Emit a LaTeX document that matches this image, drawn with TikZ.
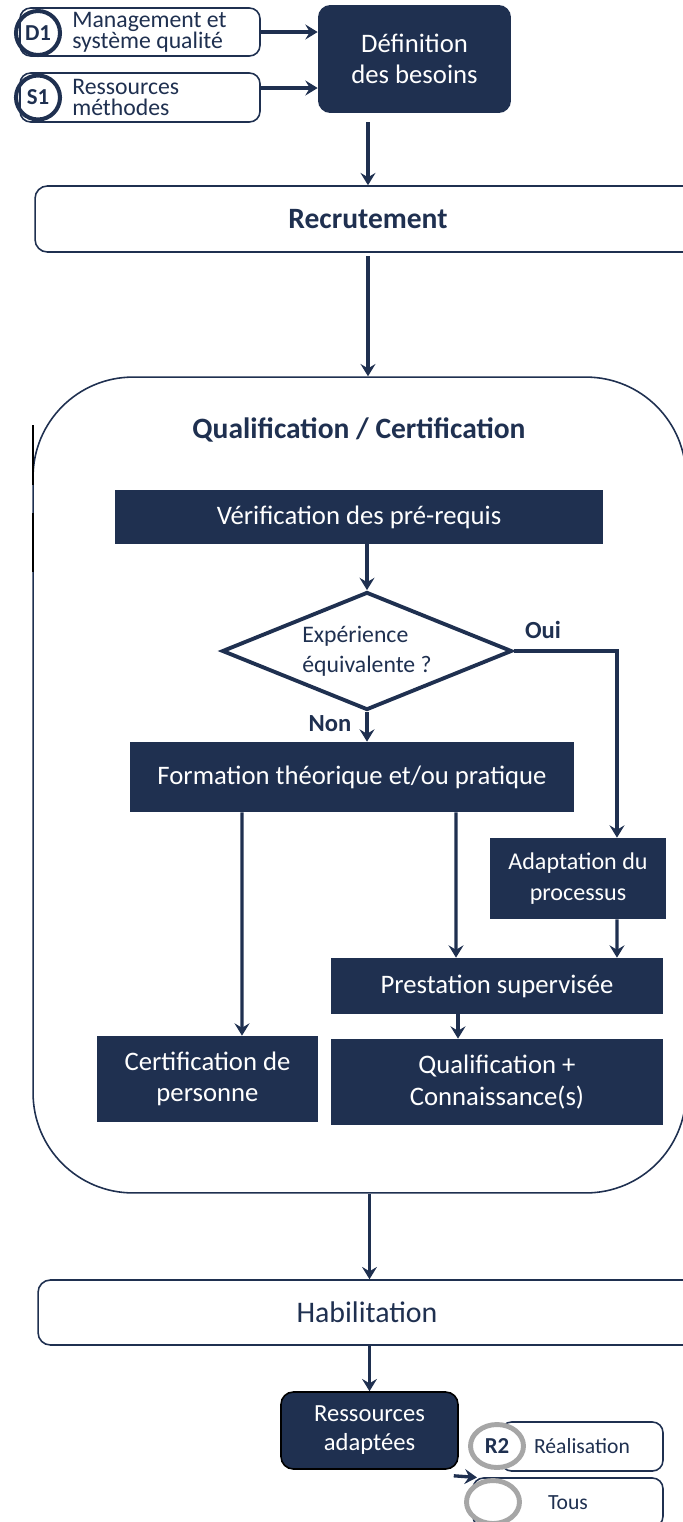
\documentclass[tikz,border=0pt]{standalone}
\usepackage{fontspec}
\setmainfont{Carlito}
\usetikzlibrary{arrows.meta,shapes.geometric,positioning}
\definecolor{navy}{HTML}{1F3050}
\definecolor{ringgrey}{HTML}{A6A6A6}
\tikzset{
  darkbox/.style={fill=navy, text=white, align=center, inner sep=0pt, font=\fontsize{15.2}{18}\selectfont},
  framebox/.style={draw=navy, line width=0.9pt, rounded corners=6pt, fill=white, inner sep=0pt},
  flow/.style={draw=navy, line width=1.9pt, -{Stealth[length=7pt,width=8.5pt,inset=2.5pt]}},
  ring/.style={draw=navy, line width=2.3pt, circle, minimum size=0.88cm, inner sep=0pt, text=navy, font=\bfseries\fontsize{13}{13}\selectfont},
  greyring/.style={draw=ringgrey, fill=white, line width=2.8pt, ellipse, minimum width=1.06cm, minimum height=0.86cm, inner sep=0pt, text=navy, font=\bfseries\fontsize{13}{13}\selectfont},
  lbl/.style={text=navy, inner sep=0pt},
}
\begin{document}
\begin{tikzpicture}[x=0.02cm, y=-0.02cm]
\useasboundingbox (0,0) rectangle (683,1522);
\clip (0,0) rectangle (683,1522);

% entrees
\node[framebox, minimum width=4.8cm, minimum height=0.96cm] (d1box) at (140,32) {};
\node[framebox, minimum width=4.8cm, minimum height=0.98cm] (s1box) at (140,97.5) {};
\node[ring] (d1) at (38,33) {D1};
\node[ring] (s1) at (38,97.5) {S1};
\node[lbl, anchor=west, align=left, font=\fontsize{13.5}{12}\selectfont] (d1txt) at (72,32) {Management et\\système qualité};
\node[lbl, anchor=west, align=left, font=\fontsize{13.5}{12}\selectfont] (s1txt) at (72,97.5) {Ressources\\méthodes};

\node[darkbox, rounded corners=7pt, minimum width=3.86cm, minimum height=2.16cm] (def) at (414.5,59) {Définition\\des besoins};
\draw[flow] (d1box.east) -- (d1box.east -| def.west);
\draw[flow] ([yshift=0.19cm]s1box.east) -- ([yshift=0.19cm]s1box.east -| def.west);

\node[framebox, rounded corners=7pt, minimum width=13.32cm, minimum height=1.32cm, text=navy, font=\bfseries\fontsize{16.8}{18}\selectfont] (rec) at (368,219) {Recrutement};
\draw[flow, shorten <=5pt] (rec.north |- def.south) -- (rec.north);

% qualification
\node[draw=navy, line width=0.9pt, rounded corners=2cm, minimum width=13.06cm, minimum height=16.32cm] (qual) at (359.5,785) {};
\draw[flow, shorten <=2pt] (rec.south) -- (rec.south |- qual.north);
\draw[black, line width=1.1pt] (33,425) -- (33,485) (33,513) -- (33,572);
\node[lbl, font=\bfseries\fontsize{16.8}{18}\selectfont] (qtitle) at (359,430) {Qualification / Certification};

\node[darkbox, minimum width=9.76cm, minimum height=1.08cm] (ver) at (359,517) {Vérification des pré-requis};
\node[draw=navy, line width=2.2pt, diamond, aspect=2.45, minimum width=5.8cm, minimum height=2.36cm, inner sep=0pt, align=left, text=navy, font=\fontsize{13.5}{17}\selectfont] (exp) at (367,651) {Expérience\\équivalente ?};
\draw[flow] (exp.north |- ver.south) -- (exp.north);
\node[lbl, font=\bfseries\fontsize{14}{14}\selectfont] (oui) at (543,630) {Oui};
\node[lbl, font=\bfseries\fontsize{14}{14}\selectfont] (non) at (330,724) {Non};

\node[darkbox, minimum width=8.88cm, minimum height=1.4cm] (form) at (352,777) {Formation théorique et/ou pratique};
\draw[flow] (exp.south) -- (exp.south |- form.north);

\node[darkbox, font=\fontsize{13.7}{18}\selectfont, minimum width=3.52cm, minimum height=1.62cm] (adap) at (578,878.5) {Adaptation du\\processus};
\draw[flow] (exp.east) -| ([xshift=0.78cm]adap.north);

\node[darkbox, minimum width=6.64cm, minimum height=1.12cm] (pres) at (497,986) {Prestation supervisée};
\draw[flow] ([xshift=2.08cm]form.south) -- ([xshift=-0.82cm]pres.north);
\draw[flow] ([xshift=0.78cm]adap.south) -- ([xshift=2.4cm]pres.north);

\node[darkbox, minimum width=4.42cm, minimum height=1.72cm] (cert) at (207.5,1079) {Certification de\\personne};
\draw[flow] ([xshift=-2.2cm]form.south) -- ([xshift=0.69cm]cert.north);

\node[darkbox, minimum width=6.64cm, minimum height=1.72cm] (qconn) at (497,1082) {Qualification +\\Connaissance(s)};
\draw[flow] ([xshift=-0.78cm]pres.south) -- ([xshift=-0.78cm]qconn.north);

% sortie
\node[framebox, rounded corners=7pt, minimum width=13.16cm, minimum height=1.3cm, text=navy, font=\fontsize{17}{18}\selectfont] (hab) at (367,1312.5) {Habilitation};
\node[darkbox, draw=black, line width=0.9pt, rounded corners=7pt, font=\fontsize{14}{16.5}\selectfont, minimum width=3.54cm, minimum height=1.54cm] (res) at (369.5,1430.5) {Ressources\\adaptées};
\draw[flow] (res.north |- qual.south) -- (res.north |- hab.north);
\draw[flow] (res.north |- hab.south) -- (res.north);

\node[framebox, minimum width=3.24cm, minimum height=0.98cm, text=navy, font=\fontsize{12.3}{14}\selectfont] (r2box) at (582,1446.5) {Réalisation};
\node[greyring] (r2) at (497,1446) {R2};
\node[framebox, minimum width=3.8cm, minimum height=0.98cm, text=navy, font=\fontsize{12.3}{14}\selectfont] (tousbox) at (568,1502.5) {Tous};
\node[greyring] (tousring) at (493,1502) {};
\draw[flow] ([xshift=-0.1cm,yshift=-0.12cm]res.south east) -- ([xshift=-0.4cm,yshift=-0.15cm]r2.south);
\end{tikzpicture}
\end{document}
